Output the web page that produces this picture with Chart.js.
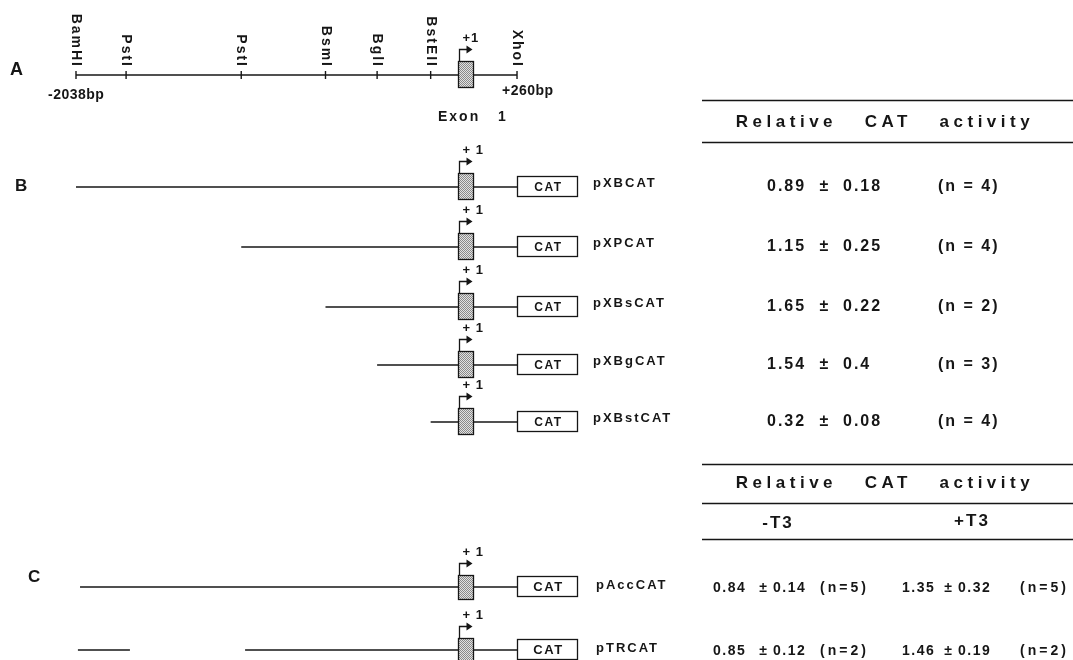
<!DOCTYPE html>
<html>
<head>
<meta charset="utf-8">
<script src="https://cdn.jsdelivr.net/npm/chart.js@4.4.1/dist/chart.umd.min.js"></script>
<style>
  html, body { margin: 0; padding: 0; background: #fff; }
  #fig { display: block; }
</style>
</head>
<body>
<canvas id="fig" width="1073" height="660"></canvas>
<script>
"use strict";

// restriction map of the 5' region, bp relative to +1
const SITE_NAMES = ["BamHI", "PstI", "PstI", "BsmI", "BglI", "BstEII", "XhoI"];
const SITE_POS = [-2038, -1777, -1177, -738, -469, -190, 260];
const EXON1 = [-47, 31];
const CAT_REGION = [260, 575];   // reporter, drawn fused at the XhoI end

// panel B: 5' deletions
const B_NAMES = ["pXBCAT", "pXPCAT", "pXBsCAT", "pXBgCAT", "pXBstCAT"];
const B_START = [-2038, -1177, -738, -469, -190];
const B_MEAN = [0.89, 1.15, 1.65, 1.54, 0.32];
const B_SD = [0.18, 0.25, 0.22, 0.4, 0.08];
const B_N = [4, 4, 2, 3, 4];

// panel C: T3 response
const C_NAMES = ["pAccCAT", "pTRCAT"];
const C_SEGMENTS = [[[-2017, 260]], [[-2028, -1757], [-1157, 260]]];
const C_MEAN_MINUS = [0.84, 0.85];
const C_SD_MINUS = [0.14, 0.12];
const C_N_MINUS = [5, 2];
const C_MEAN_PLUS = [1.35, 1.46];
const C_SD_PLUS = [0.32, 0.19];
const C_N_PLUS = [5, 2];

// page layout (y in canvas pixels)
const LAYOUT = {
  xMin: -2434, xMax: 3157,
  rowA: 75,
  rowsB: [187, 247, 307, 365, 422],
  rowsC: [587, 650],
  tableLeft: 702
};

const FONT = "'Liberation Sans', Arial, sans-serif";
const INK = "#161616";

function seg(x0, x1, y) {
  return {
    data: [{x: x0, y: y}, {x: x1, y: y}],
    showLine: true,
    borderColor: INK,
    borderWidth: 1.4,
    pointRadius: 0
  };
}

const datasets = [];
datasets.push(seg(SITE_POS[0], SITE_POS[SITE_POS.length - 1], LAYOUT.rowA));
datasets.push({
  data: SITE_POS.map(p => ({x: p, y: LAYOUT.rowA})),
  showLine: false,
  pointStyle: "line",
  rotation: 90,
  radius: 4,
  borderColor: INK,
  borderWidth: 1.4
});
for (let i = 0; i < B_START.length; i++) {
  datasets.push(seg(B_START[i], CAT_REGION[0], LAYOUT.rowsB[i]));
}
for (let i = 0; i < C_SEGMENTS.length; i++) {
  for (const s of C_SEGMENTS[i]) {
    datasets.push(seg(s[0], s[1], LAYOUT.rowsC[i]));
  }
}

function stipple(ctx) {
  const c = document.createElement("canvas");
  c.width = 2; c.height = 2;
  const g = c.getContext("2d");
  g.fillStyle = "#e2e2e2"; g.fillRect(0, 0, 2, 2);
  g.fillStyle = "#8a8a8a"; g.fillRect(0, 0, 1, 1); g.fillRect(1, 1, 1, 1);
  return ctx.createPattern(c, "repeat");
}

function text(ctx, str, x, y, size, align, ls) {
  ctx.font = "bold " + size + "px " + FONT;
  ctx.letterSpacing = (ls || 0) + "px";
  ctx.textAlign = align || "left";
  ctx.textBaseline = "middle";
  ctx.fillStyle = INK;
  ctx.fillText(str, x, y);
}

const figure = {
  id: "figure",
  afterDatasetsDraw(chart) {
    const ctx = chart.ctx;
    const px = v => chart.scales.x.getPixelForValue(v);
    const py = v => chart.scales.y.getPixelForValue(v);
    const fill = stipple(ctx);
    ctx.save();
    ctx.strokeStyle = INK;
    ctx.lineWidth = 1.3;

    function exon(y, plusLabel, up, down) {
      const x0 = Math.round(px(EXON1[0])) + 0.5;
      const x1 = Math.round(px(EXON1[1])) + 0.5;
      const top = Math.round(py(y) - up) + 0.5;
      const h = up + down;
      ctx.fillStyle = fill;
      ctx.fillRect(x0, top, x1 - x0, h);
      ctx.strokeRect(x0, top, x1 - x0, h);
      // transcription start arrow
      const ay = top - 12;
      ctx.beginPath();
      ctx.moveTo(x0 + 1, top);
      ctx.lineTo(x0 + 1, ay);
      ctx.lineTo(x0 + 9, ay);
      ctx.stroke();
      ctx.beginPath();
      ctx.moveTo(x0 + 8, ay - 4);
      ctx.lineTo(x0 + 14, ay);
      ctx.lineTo(x0 + 8, ay + 4);
      ctx.closePath();
      ctx.fillStyle = INK;
      ctx.fill();
      text(ctx, plusLabel, x0 + 4, ay - 11, 13, "left", 1);
    }

    function cat(y, size) {
      const x0 = Math.round(px(CAT_REGION[0])) + 0.5;
      const x1 = Math.round(px(CAT_REGION[1])) + 0.5;
      const top = Math.round(py(y) - 11) + 0.5;
      ctx.fillStyle = "#fff";
      ctx.fillRect(x0, top, x1 - x0, 20);
      ctx.strokeRect(x0, top, x1 - x0, 20);
      text(ctx, "CAT", (x0 + x1) / 2 + 1, top + 11, size, "center", 1.5);
    }

    function rule(y) {
      ctx.beginPath();
      ctx.moveTo(LAYOUT.tableLeft, y + 0.5);
      ctx.lineTo(chart.width, y + 0.5);
      ctx.stroke();
    }

    // panel A
    text(ctx, "A", 10, 70, 18, "left", 0);
    exon(LAYOUT.rowA, "+1", 14, 12);
    for (let i = 0; i < SITE_NAMES.length; i++) {
      ctx.save();
      ctx.translate(px(SITE_POS[i]), 68);
      ctx.rotate(Math.PI / 2);
      text(ctx, SITE_NAMES[i], 0, 0, 14, "right", 2);
      ctx.restore();
    }
    text(ctx, SITE_POS[0] + "bp", 48, 95, 14, "left", 0.5);
    text(ctx, "+" + SITE_POS[SITE_POS.length - 1] + "bp", 502, 91, 14, "left", 0.5);
    text(ctx, "Exon   1", 438, 117, 14, "left", 2);

    // panel B
    text(ctx, "B", 15, 186, 17, "left", 0);
    for (let i = 0; i < B_NAMES.length; i++) {
      const y = LAYOUT.rowsB[i];
      exon(y, "+ 1", 14, 12);
      cat(y, 12);
      text(ctx, B_NAMES[i], 593, y - 4, 13, "left", 2);
      text(ctx, String(B_MEAN[i]), 767, y, 16, "left", 2);
      text(ctx, "±", 824, y, 16, "center", 0);
      text(ctx, String(B_SD[i]), 843, y, 16, "left", 2);
      text(ctx, "(n = " + B_N[i] + ")", 938, y, 16, "left", 2);
    }
    rule(100);
    text(ctx, "Relative   CAT   activity", 885, 122, 17, "center", 4.5);
    rule(142);

    // panel C
    text(ctx, "C", 28, 577, 17, "left", 0);
    rule(464);
    text(ctx, "Relative   CAT   activity", 885, 483, 17, "center", 4.5);
    rule(503);
    text(ctx, "-T3", 778, 523, 17, "center", 2);
    text(ctx, "+T3", 972, 521, 17, "center", 2);
    rule(539);
    for (let i = 0; i < C_NAMES.length; i++) {
      const y = LAYOUT.rowsC[i];
      exon(y, "+ 1", 12, 12);
      cat(y, 13);
      text(ctx, C_NAMES[i], 596, y - 2, 13, "left", 2);
      text(ctx, String(C_MEAN_MINUS[i]), 713, y + 1, 14, "left", 1.5);
      text(ctx, "±", 763, y + 1, 14, "center", 0);
      text(ctx, String(C_SD_MINUS[i]), 773, y + 1, 14, "left", 1.5);
      text(ctx, "(n=" + C_N_MINUS[i] + ")", 820, y + 1, 14, "left", 3);
      text(ctx, String(C_MEAN_PLUS[i]), 902, y + 1, 14, "left", 1.5);
      text(ctx, "±", 948, y + 1, 14, "center", 0);
      text(ctx, String(C_SD_PLUS[i]), 958, y + 1, 14, "left", 1.5);
      text(ctx, "(n=" + C_N_PLUS[i] + ")", 1020, y + 1, 14, "left", 3);
    }
    ctx.restore();
  }
};

const ctx = document.getElementById("fig").getContext("2d");
new Chart(ctx, {
  type: "scatter",
  data: {datasets: datasets},
  options: {
    responsive: false,
    animation: false,
    devicePixelRatio: 1,
    events: [],
    layout: {padding: 0, autoPadding: false},
    plugins: {
      legend: {display: false},
      tooltip: {enabled: false}
    },
    scales: {
      x: {type: "linear", min: LAYOUT.xMin, max: LAYOUT.xMax, display: false},
      y: {type: "linear", min: 0, max: 660, reverse: true, display: false}
    }
  },
  plugins: [figure]
});
</script>
</body>
</html>
